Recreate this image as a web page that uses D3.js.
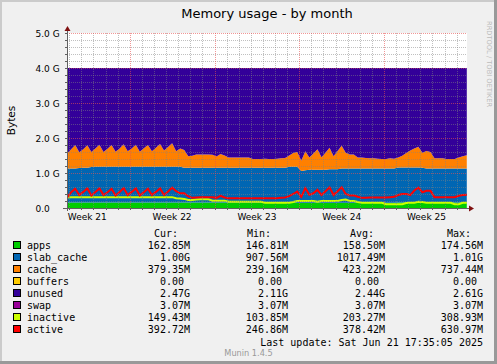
<!DOCTYPE html>
<html><head><meta charset="utf-8">
<script src="https://cdn.jsdelivr.net/npm/d3@7"></script>
<style>html,body{margin:0;padding:0;background:#F0F0F0;} svg{display:block}</style>
</head><body><svg id="c" width="497" height="364"></svg>
<script>
// ---- data (values in GiB), one sample every 8 hours, day 0 = start of Week 22 ----
const startDay = -5.5, stepDay = 1/3;
const apps = [
.16,.16,.16,.16,.16,.16,.16,.16,.16,.16,
.16,.16,.16,.16,.16,.16,.16,.16,.16,.16,
.16,.16,.16,.16,.16,.16,.16,.16,.16,.16,
.16,.16,.16,.16,.16,.16,.16,.16,.16,.16,
.16,.15,.15,.15,.15,.15,.15,.15,.15,.15,
.15,.15,.15,.15,.15,.15,.15,.15,.15,.15,
.15,.15,.15,.15,.15,.15,.15,.15,.15,.15,
.15,.15,.15,.15,.15,.15,.15,.15,.15,.15,
.15,.15,.15,.16,.16,.16,.16,.16,.16,.16,
.16,.16,.16,.16,.16,.16,.16,.16,.16,.16,
.16];
const slab_cache = [
.97,.97,.97,.97,.98,.99,.99,1.01,1.02,1.02,
1.02,1.02,1.02,1.02,1.02,1.02,1.02,1.02,1.02,1.02,
1.02,1.02,1.02,1.02,1.02,1.02,1.02,1.02,1.02,1.02,
.99,.99,.99,.99,.99,.99,.99,.99,.99,.99,
.99,1.00,1.00,1.00,1.00,1.00,1.00,1.00,1.00,1.00,
1.00,1.00,1.00,1.00,1.00,1.00,1.03,1.03,1.03,.91,
.93,.94,.94,.94,.94,.94,.96,.96,.96,.98,
.98,.98,.98,.98,.98,.98,.98,.98,.98,.98,
.98,.98,.98,1.00,1.00,1.00,1.00,1.00,1.00,.99,
.97,.97,.97,.97,.97,.97,.97,.97,.97,.97,
.97];
const cache = [
.49,.43,.55,.67,.45,.53,.64,.43,.52,.63,
.42,.51,.62,.43,.52,.64,.44,.52,.63,.43,
.53,.62,.44,.54,.65,.46,.56,.67,.44,.52,
.51,.33,.34,.38,.38,.38,.38,.37,.32,.39,
.35,.29,.29,.29,.29,.29,.29,.25,.25,.25,
.26,.25,.25,.26,.27,.28,.32,.39,.42,.29,
.54,.35,.47,.59,.36,.49,.61,.37,.52,.65,
.45,.40,.40,.31,.31,.30,.29,.29,.28,.27,
.27,.29,.28,.28,.33,.41,.48,.54,.59,.43,
.50,.47,.29,.29,.29,.27,.27,.27,.31,.35,
.38];
const buffers = [
0,0,0,0,0,0,0,0,0,0, 0,0,0,0,0,0,0,0,0,0,
0,0,0,0,0,0,0,0,0,0, 0,0,0,0,0,0,0,0,0,0,
0,0,0,0,0,0,0,0,0,0, 0,0,0,0,0,0,0,0,0,0,
0,0,0,0,0,0,0,0,0,0, 0,0,0,0,0,0,0,0,0,0,
0,0,0,0,0,0,0,0,0,0, 0,0,0,0,0,0,0,0,0,0,
0];
const unused = [
2.377,2.437,2.317,2.197,2.407,2.317,2.207,2.397,2.297,2.187,
2.397,2.307,2.197,2.387,2.297,2.177,2.377,2.297,2.187,2.387,
2.287,2.197,2.377,2.277,2.167,2.357,2.257,2.147,2.377,2.297,
2.337,2.517,2.507,2.467,2.467,2.467,2.467,2.477,2.527,2.457,
2.497,2.557,2.557,2.557,2.557,2.557,2.557,2.597,2.597,2.597,
2.587,2.597,2.597,2.587,2.577,2.567,2.497,2.427,2.397,2.647,
2.377,2.557,2.437,2.317,2.547,2.417,2.277,2.517,2.367,2.217,
2.417,2.467,2.467,2.557,2.557,2.567,2.577,2.577,2.587,2.597,
2.597,2.577,2.587,2.557,2.507,2.427,2.357,2.297,2.247,2.417,
2.367,2.397,2.577,2.577,2.577,2.597,2.597,2.597,2.557,2.517,
2.487];
const swap = [
.003,.003,.003,.003,.003,.003,.003,.003,.003,.003,
.003,.003,.003,.003,.003,.003,.003,.003,.003,.003,
.003,.003,.003,.003,.003,.003,.003,.003,.003,.003,
.003,.003,.003,.003,.003,.003,.003,.003,.003,.003,
.003,.003,.003,.003,.003,.003,.003,.003,.003,.003,
.003,.003,.003,.003,.003,.003,.003,.003,.003,.003,
.003,.003,.003,.003,.003,.003,.003,.003,.003,.003,
.003,.003,.003,.003,.003,.003,.003,.003,.003,.003,
.003,.003,.003,.003,.003,.003,.003,.003,.003,.003,
.003,.003,.003,.003,.003,.003,.003,.003,.003,.003,
.003];
const inactive = [
.29,.30,.31,.31,.31,.31,.31,.31,.31,.31,
.31,.31,.31,.31,.31,.31,.31,.31,.31,.31,
.31,.31,.31,.31,.31,.31,.31,.31,.28,.27,
.26,.23,.23,.24,.25,.25,.25,.21,.21,.21,
.21,.18,.18,.18,.18,.18,.18,.18,.18,.18,
.15,.15,.15,.15,.15,.15,.15,.17,.20,.20,
.20,.20,.20,.18,.20,.20,.20,.20,.20,.23,
.24,.20,.20,.17,.15,.15,.15,.15,.15,.15,
.11,.11,.11,.11,.11,.14,.15,.15,.18,.17,
.15,.15,.15,.15,.15,.15,.15,.11,.11,.15,
.15];
const active = [
.30,.30,.45,.55,.37,.46,.56,.36,.46,.56,
.37,.45,.55,.36,.46,.57,.37,.46,.56,.36,
.45,.55,.37,.46,.56,.37,.47,.58,.48,.42,
.42,.33,.29,.30,.31,.31,.31,.31,.29,.35,
.30,.28,.28,.28,.28,.28,.28,.28,.28,.28,
.28,.28,.28,.28,.29,.30,.34,.40,.47,.32,
.57,.38,.42,.52,.37,.48,.59,.37,.48,.59,
.40,.36,.36,.32,.29,.29,.30,.30,.30,.30,
.30,.31,.32,.37,.40,.40,.37,.50,.58,.45,
.49,.49,.31,.31,.31,.31,.31,.31,.35,.37,
.38];

const seriesNames = ["apps","slab_cache","cache","buffers","unused","swap","inactive","active"];
const seriesColors = ["#00CC00","#0066B3","#FF8000","#FFCC00","#330099","#990099","#CCFF00","#FF0000"];
const curVals = ["162.85M","1.00G","379.35M","0.00 ","2.47G","3.07M","149.43M","392.72M"];
const minVals = ["146.81M","907.56M","239.16M","0.00 ","2.11G","3.07M","103.85M","246.86M"];
const avgVals = ["158.50M","1017.49M","423.22M","0.00 ","2.44G","3.07M","203.27M","378.42M"];
const maxVals = ["174.56M","1.01G","737.44M","0.00 ","2.61G","3.07M","308.93M","630.97M"];
const yTickVals = [0,1,2,3,4,5];
const yTickLabels = ["0.0","1.0 G","2.0 G","3.0 G","4.0 G","5.0 G"];
const weekLabelDays = [-3.5,3.5,10.5,17.5,24.5];
const weekLabels = ["Week 21","Week 22","Week 23","Week 24","Week 25"];
const weekStartDays = [0,7,14,21];
const titleText = "Memory usage - by month";
const lastUpdate = "Last update: Sat Jun 21 17:35:05 2025";

// ---- layout ----
const W = 497, H = 364;
const PL = 67, PR = 467, PT = 33, PB = 208;
const svg = d3.select("#c");
const x = d3.scaleLinear().domain([-5.18, 27.85]).range([PL, PR]);
const y = d3.scaleLinear().domain([0, 5]).range([PB, PT]);
const days = apps.map((_, i) => startDay + i * stepDay);

// background + 3d border
svg.append("rect").attr("width", W).attr("height", H).attr("fill", "#F0F0F0");
svg.append("rect").attr("x",0).attr("y",0).attr("width",W).attr("height",2).attr("fill","#CBCBCB");
svg.append("rect").attr("x",0).attr("y",0).attr("width",2).attr("height",H).attr("fill","#CBCBCB");
svg.append("rect").attr("x",0).attr("y",H-3).attr("width",W).attr("height",3).attr("fill","#999999");
svg.append("rect").attr("x",W-3).attr("y",0).attr("width",3).attr("height",H).attr("fill","#999999");

// canvas
svg.append("rect").attr("x", PL).attr("y", PT).attr("width", PR - PL).attr("height", PB - PT).attr("fill", "#FFFFFF");
svg.append("clipPath").attr("id", "clip").append("rect")
  .attr("x", PL).attr("y", PT - 2).attr("width", PR - PL).attr("height", PB - PT + 2);

// stacked areas
const stackKeys = ["apps","slab_cache","cache","buffers","unused","swap"];
const stackSrc = {apps, slab_cache, cache, buffers, unused, swap};
const rows = days.map((d, i) => {
  const r = {};
  stackKeys.forEach(k => r[k] = stackSrc[k][i]);
  return r;
});
const stacked = d3.stack().keys(stackKeys)(rows);
const area = d3.area().x((d, i) => x(days[i])).y0(d => y(d[0])).y1(d => y(d[1]));
const plot = svg.append("g").attr("clip-path", "url(#clip)");
plot.selectAll("path.area").data(stacked).join("path").attr("class","area")
  .attr("d", area)
  .attr("fill", s => seriesColors[seriesNames.indexOf(s.key)]);

// grid
const gridMinor = "rgba(130,130,130,0.5)", gridMajor = "rgba(232,80,80,0.6)";
const grid = svg.append("g").attr("shape-rendering", "crispEdges");
const minorY = d3.range(0, 5.001, 0.2).filter(v => Math.abs(v - Math.round(v)) > 1e-6);
grid.selectAll("line.gy").data(minorY).join("line")
  .attr("x1", PL).attr("x2", PR).attr("y1", v => Math.round(y(v)) + 0.5).attr("y2", v => Math.round(y(v)) + 0.5)
  .attr("stroke", gridMinor).attr("stroke-dasharray", "1,1");
const minorX = d3.range(-5, 28).filter(d => !weekStartDays.includes(d));
grid.selectAll("line.gx").data(minorX).join("line")
  .attr("y1", PT).attr("y2", PB).attr("x1", d => Math.round(x(d)) + 0.5).attr("x2", d => Math.round(x(d)) + 0.5)
  .attr("stroke", gridMinor).attr("stroke-dasharray", "1,1");
grid.selectAll("line.my").data(yTickVals.filter(v => v > 0)).join("line")
  .attr("x1", PL).attr("x2", PR).attr("y1", v => Math.round(y(v)) + 0.5).attr("y2", v => Math.round(y(v)) + 0.5)
  .attr("stroke", gridMajor).attr("stroke-dasharray", "1,1");
grid.selectAll("line.mx").data(weekStartDays).join("line")
  .attr("y1", PT).attr("y2", PB).attr("x1", d => Math.round(x(d)) + 0.5).attr("x2", d => Math.round(x(d)) + 0.5)
  .attr("stroke", gridMajor).attr("stroke-dasharray", "1,1");

// lines
const line = arr => d3.line().x((d, i) => x(days[i])).y(d => y(d))(arr);
plot.append("path").attr("d", line(inactive)).attr("fill", "none")
  .attr("stroke", seriesColors[6]).attr("stroke-width", 2).attr("stroke-linejoin", "miter");
plot.append("path").attr("d", line(active)).attr("fill", "none")
  .attr("stroke", seriesColors[7]).attr("stroke-width", 2).attr("stroke-linejoin", "miter");

// axes
const ax = svg.append("g").attr("shape-rendering", "crispEdges");
ax.append("line").attr("x1", PL + 0.5).attr("x2", PL + 0.5).attr("y1", PB + 3).attr("y2", PT - 3).attr("stroke", "#606060");
ax.append("line").attr("x1", PL - 4).attr("x2", PR + 3).attr("y1", PB + 0.5).attr("y2", PB + 0.5).attr("stroke", "#606060");
ax.selectAll("line.ty").data(d3.range(0, 5.001, 0.2)).join("line")
  .attr("x1", PL - 2).attr("x2", PL).attr("y1", v => Math.round(y(v)) + 0.5).attr("y2", v => Math.round(y(v)) + 0.5)
  .attr("stroke", "#606060");
ax.selectAll("line.tx").data(d3.range(-5, 28)).join("line")
  .attr("y1", PB).attr("y2", PB + 2).attr("x1", d => Math.round(x(d)) + 0.5).attr("x2", d => Math.round(x(d)) + 0.5)
  .attr("stroke", "#606060");
// arrows
svg.append("path").attr("d", `M${PL + 0.5},${PT - 7} L${PL + 3.5},${PT - 2} L${PL - 2.5},${PT - 2} Z`).attr("fill", "#7F1010");
svg.append("path").attr("d", `M${PR + 7},${PB + 0.5} L${PR + 2},${PB - 2.5} L${PR + 2},${PB + 3.5} Z`).attr("fill", "#7F1010");

// texts
const sans = "DejaVu Sans, sans-serif", mono = "DejaVu Sans Mono, monospace";
svg.append("text").attr("x", (PL + PR) / 2).attr("y", 18).attr("text-anchor", "middle")
  .attr("font-family", sans).attr("font-size", 13).attr("fill", "#000").text(titleText);
svg.selectAll("text.yl").data(yTickVals).join("text")
  .attr("x", 35.5).attr("y", v => y(v) + 3.5).attr("text-anchor", "start")
  .attr("font-family", sans).attr("font-size", 9).attr("fill", "#000")
  .text((v, i) => yTickLabels[i]);
svg.selectAll("text.wl").data(weekLabelDays).join("text")
  .attr("x", d => x(d)).attr("y", 219.5).attr("text-anchor", "middle")
  .attr("font-family", sans).attr("font-size", 9).attr("fill", "#000")
  .text((d, i) => weekLabels[i]);
svg.append("text").attr("transform", `translate(14.5,${(PT + PB) / 2}) rotate(-90)`).attr("text-anchor", "middle")
  .attr("font-family", sans).attr("font-size", 10.5).attr("fill", "#000").text("Bytes");
svg.append("text").attr("transform", "translate(486.5,21) rotate(90)").attr("text-anchor", "start")
  .attr("font-family", sans).attr("font-size", 6.7).attr("fill", "#BBBBBB").text("RRDTOOL / TOBI OETIKER");

// legend
const legTop = 249, legStep = 12;
const hdr = [["Cur:", 154], ["Min:", 247], ["Avg:", 350], ["Max:", 447]];
svg.selectAll("text.hdr").data(hdr).join("text")
  .attr("x", d => d[1]).attr("y", 237).attr("font-family", mono).attr("font-size", 10).attr("fill", "#000")
  .text(d => d[0]);
const cols = [[curVals, 190], [minVals, 288], [avgVals, 385], [maxVals, 483]];
const leg = svg.append("g");
seriesNames.forEach((name, i) => {
  const by = legTop + i * legStep;
  leg.append("rect").attr("x", 13.5).attr("y", by - 7.5).attr("width", 7).attr("height", 7)
    .attr("fill", seriesColors[i]).attr("stroke", "#000").attr("stroke-width", 1);
  leg.append("text").attr("x", 27).attr("y", by).attr("font-family", mono).attr("font-size", 10).attr("fill", "#000").text(name);
  cols.forEach(([arr, rx]) => {
    leg.append("text").attr("x", rx).attr("y", by).attr("text-anchor", "end")
      .attr("xml:space", "preserve").style("white-space", "pre")
      .attr("font-family", mono).attr("font-size", 10).attr("fill", "#000").text(arr[i]);
  });
});
svg.append("text").attr("x", 483).attr("y", 345.5).attr("text-anchor", "end")
  .attr("font-family", mono).attr("font-size", 10).attr("fill", "#000").text(lastUpdate);
svg.append("text").attr("x", 248.5).attr("y", 356).attr("text-anchor", "middle")
  .attr("font-family", sans).attr("font-size", 8.2).attr("fill", "#999999").text("Munin 1.4.5");
</script></body></html>
